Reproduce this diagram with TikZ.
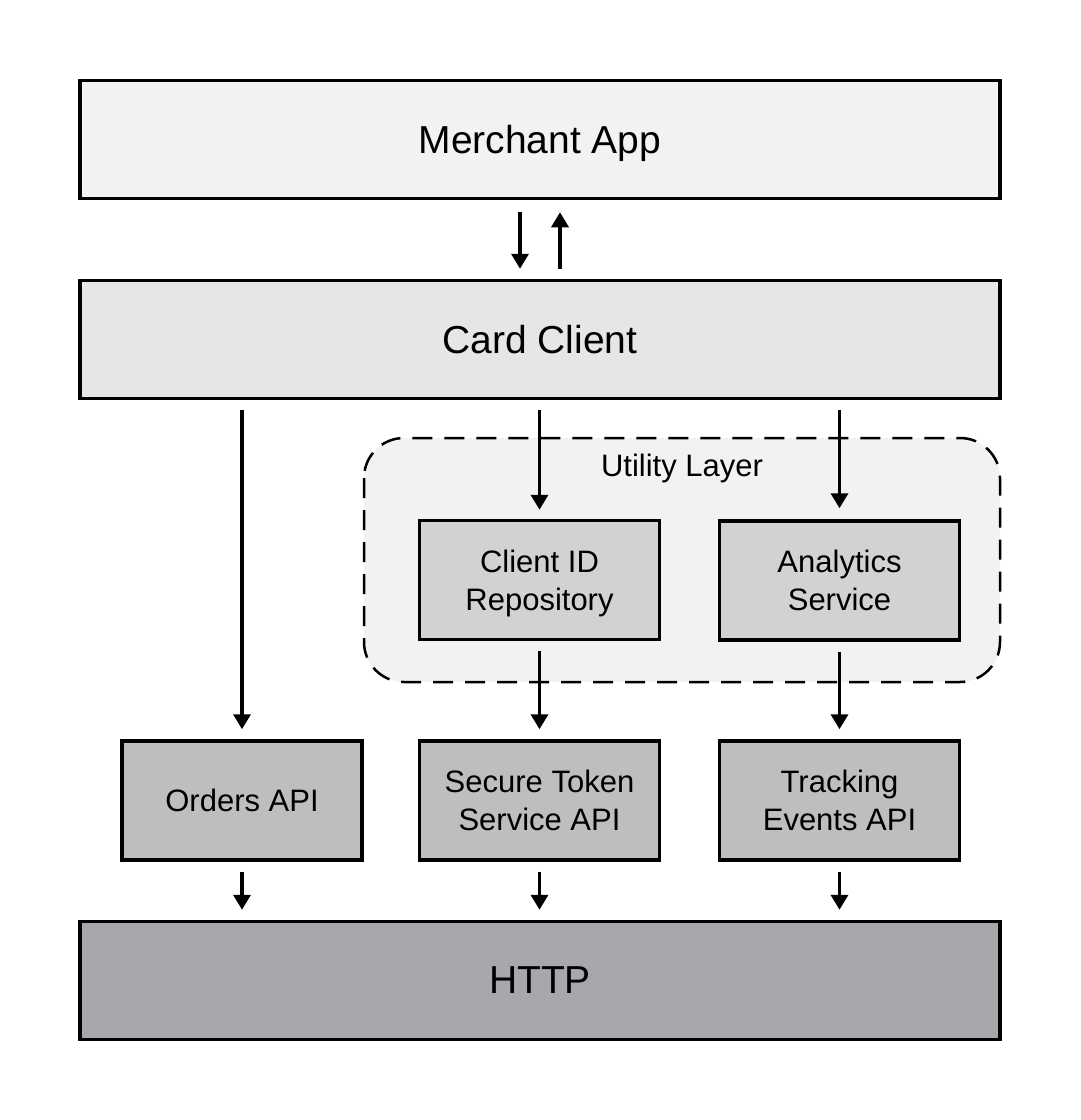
\documentclass[tikz,border=0pt]{standalone}
\usepackage{fontspec}
\setmainfont{Liberation Sans}
\usetikzlibrary{arrows.meta}
\definecolor{cMerch}{HTML}{F2F2F2}
\definecolor{cCard}{HTML}{E6E6E7}
\definecolor{cUtil}{HTML}{F2F2F2}
\definecolor{cInner}{HTML}{D1D2D4}
\definecolor{cApi}{HTML}{BDBEC0}
\definecolor{cHttp}{HTML}{A7A8AB}
\tikzset{
  bigbox/.style={draw=black, line width=3.5pt, minimum width=920pt, minimum height=118pt, inner sep=0pt, text depth=0pt, font=\fontsize{39}{47}\selectfont},
  smallbox/.style={draw=black, line width=3.5pt, minimum width=240pt, minimum height=119pt, inner sep=0pt, text depth=0pt, align=center, font=\fontsize{31}{38}\selectfont},
  arr/.style={line width=3.5pt, -{Triangle[length=15pt, width=17pt]}},
}
\begin{document}
\begin{tikzpicture}[x=1pt, y=-1pt]
\useasboundingbox (0,0) rectangle (1080,1120);
% utility layer
\draw[fill=cUtil, dash pattern=on 20pt off 12pt, line width=2.5pt, rounded corners=40pt] (364,438) rectangle (1000,682);
\node[font=\fontsize{31}{38}\selectfont] (util) at (682,468) {Utility Layer};
% boxes
\node[bigbox, fill=cMerch] (merch) at (540,139.5) {Merchant App};
\node[bigbox, fill=cCard] (card) at (540,339.5) {Card Client};
\node[bigbox, fill=cHttp] (http) at (540,980.5) {HTTP};
\node[smallbox, fill=cInner] (cid) at (539.5,580) {Client ID\\Repository};
\node[smallbox, fill=cInner] (ana) at (839.5,580.5) {Analytics\\Service};
\node[smallbox, fill=cApi] (orders) at (242,800.5) {Orders API};
\node[smallbox, fill=cApi] (sts) at (539.5,800.5) {Secure Token\\Service API};
\node[smallbox, fill=cApi] (track) at (839.5,800.5) {Tracking\\Events API};
% arrows
\draw[arr] ([xshift=-20pt,yshift=-12pt]merch.south) -- ([xshift=-20pt,yshift=10pt]card.north);
\draw[arr] ([xshift=20pt,yshift=10pt]card.north) -- ([xshift=20pt,yshift=-12pt]merch.south);
\draw[arr] ([yshift=-10pt]card.south -| orders) -- ([yshift=10pt]orders.north);
\draw[arr] ([yshift=-10pt]card.south -| cid) -- ([yshift=9pt]cid.north);
\draw[arr] ([yshift=-10pt]card.south -| ana) -- ([yshift=11pt]ana.north);
\draw[arr] ([yshift=-10pt]cid.south) -- ([yshift=10pt]sts.north);
\draw[arr] ([yshift=-10pt]ana.south) -- ([yshift=10pt]track.north);
\draw[arr] ([yshift=-10pt]orders.south) -- ([yshift=10pt]http.north -| orders);
\draw[arr] ([yshift=-10pt]sts.south) -- ([yshift=10pt]http.north -| sts);
\draw[arr] ([yshift=-10pt]track.south) -- ([yshift=10pt]http.north -| track);
\end{tikzpicture}
\end{document}
